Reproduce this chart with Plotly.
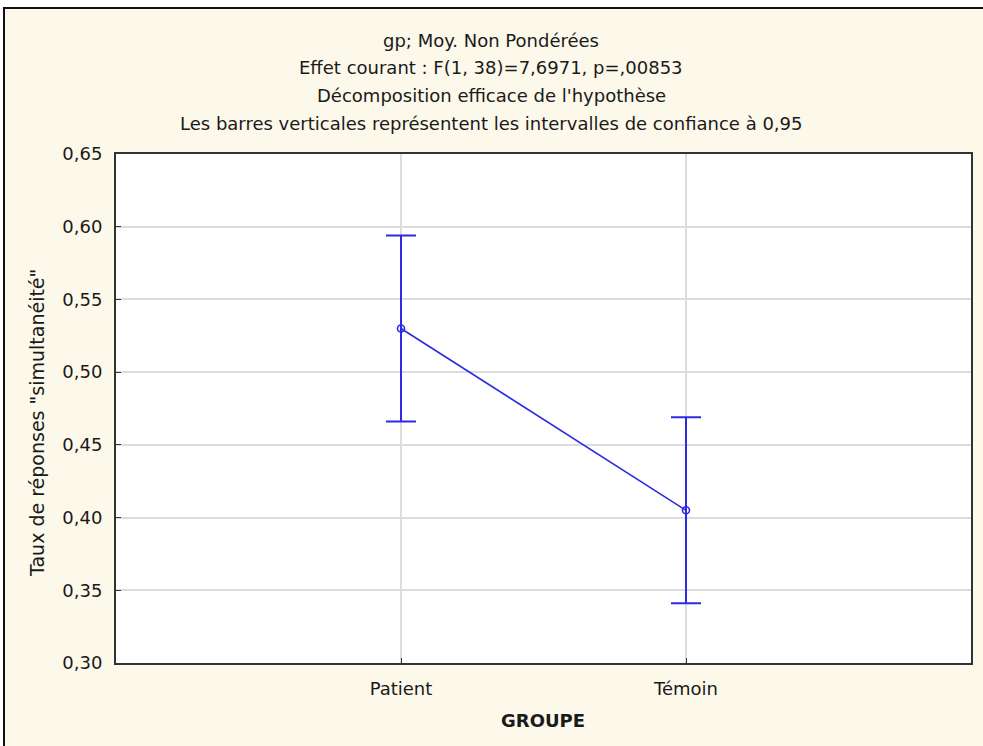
import plotly.graph_objects as go

groups = ["Patient", "Témoin"]
means = [0.530, 0.405]
ci_upper = [0.594, 0.469]
ci_lower = [0.466, 0.341]
y_ticks = [0.30, 0.35, 0.40, 0.45, 0.50, 0.55, 0.60, 0.65]

title_lines = [
    "gp; Moy. Non Pondérées",
    "Effet courant : F(1, 38)=7,6971, p=,00853",
    "Décomposition efficace de l'hypothèse",
    "Les barres verticales représentent les intervalles de confiance à 0,95",
]

BLUE = "#2b2be3"
CREAM = "#fcf8ea"
TEXT = "#1a1a1a"
FONT = "DejaVu Sans, Verdana, sans-serif"

fig = go.Figure()

fig.add_trace(go.Scatter(
    x=groups,
    y=means,
    mode="lines+markers",
    line=dict(color=BLUE, width=1.6),
    marker=dict(symbol="circle-open", size=7, color=BLUE, line=dict(width=1.6)),
    error_y=dict(
        type="data",
        symmetric=False,
        array=[u - m for u, m in zip(ci_upper, means)],
        arrayminus=[m - l for m, l in zip(means, ci_lower)],
        color=BLUE,
        thickness=2,
        width=15,
    ),
    showlegend=False,
    hoverinfo="skip",
))

# plot area in pixels: left 116, right 971, top 154, bottom 663
L, R, T, B = 116, 971, 154, 663
W, H = 983, 746


def px(xp):
    return (xp - L) / (R - L)


def py(yp):
    return (B - yp) / (B - T)


annotations = []
for i, line in enumerate(title_lines):
    annotations.append(dict(
        text=line, xref="paper", yref="paper",
        x=px(491), y=py(40 + i * 27.7), xanchor="center", yanchor="middle",
        showarrow=False, font=dict(size=18, color=TEXT, family=FONT),
    ))
annotations.append(dict(
    text='Taux de réponses "simultanéité"', xref="paper", yref="paper",
    x=px(37), y=py(423), xanchor="center", yanchor="middle", textangle=-90,
    showarrow=False, font=dict(size=19, color=TEXT, family=FONT),
))
annotations.append(dict(
    text="<b>GROUPE</b>", xref="paper", yref="paper",
    x=px(543), y=py(720), xanchor="center", yanchor="middle",
    showarrow=False, font=dict(size=18, color=TEXT, family=FONT),
))

shapes = [
    # white strips outside the outer frame
    dict(type="rect", xref="paper", yref="paper", x0=px(-10), x1=px(4), y0=py(760), y1=py(-10),
         fillcolor="white", line=dict(width=0), layer="below"),
    dict(type="rect", xref="paper", yref="paper", x0=px(-10), x1=px(1000), y0=py(8), y1=py(-10),
         fillcolor="white", line=dict(width=0), layer="below"),
    # outer frame
    dict(type="rect", xref="paper", yref="paper", x0=px(4), x1=px(1000), y0=py(760), y1=py(8),
         fillcolor="rgba(0,0,0,0)", line=dict(color="#111111", width=2)),
]

fig.update_layout(
    width=W,
    height=H,
    paper_bgcolor=CREAM,
    plot_bgcolor="white",
    separators=", ",
    font=dict(family=FONT, size=18, color=TEXT),
    margin=dict(l=L, r=W - R, t=T, b=H - B, autoexpand=False),
    xaxis=dict(
        type="category",
        range=[-1, 2],
        showgrid=True,
        gridcolor="#dcdcdc",
        gridwidth=1.5,
        showline=True,
        mirror=True,
        linecolor="#333333",
        linewidth=2,
        ticks="inside",
        ticklen=5,
        tickcolor="#333333",
        ticklabelstandoff=8,
        zeroline=False,
    ),
    yaxis=dict(
        range=[0.30, 0.65],
        tickvals=y_ticks,
        tickformat=".2f",
        showgrid=True,
        gridcolor="#dcdcdc",
        gridwidth=2,
        showline=True,
        mirror=True,
        linecolor="#333333",
        linewidth=2,
        ticks="inside",
        ticklen=5,
        tickcolor="#333333",
        ticklabelstandoff=8,
        zeroline=False,
    ),
    annotations=annotations,
    shapes=shapes,
)

fig.write_html(
    "out.html",
    config={"displayModeBar": False},
    post_script="document.body.style.margin = '0';",
)
